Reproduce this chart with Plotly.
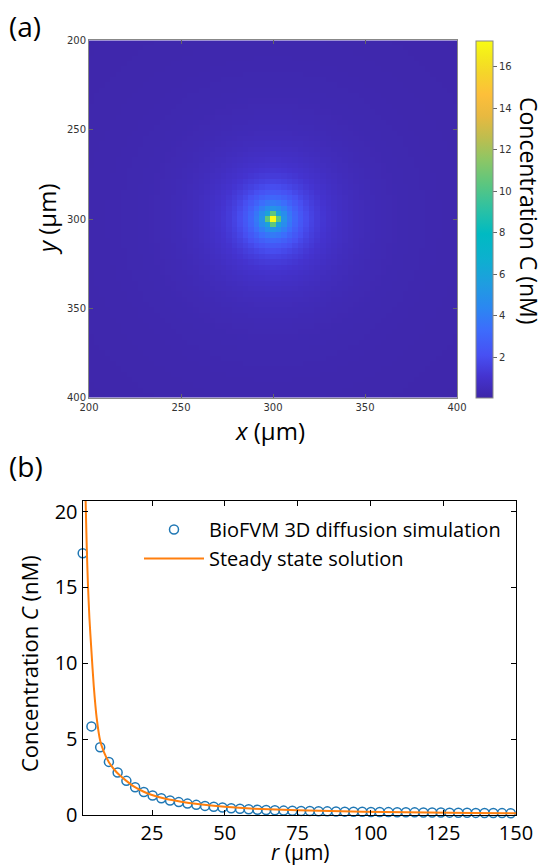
import numpy as np
import plotly.graph_objects as go

# ---------------- data ----------------
# BioFVM simulation radial profile (panel b markers)
r_sim = [1.2, 4.2, 7.2, 10.2, 13.2, 16.2, 19.2, 22.2, 25.2, 28.2,
         31.2, 34.2, 37.2, 40.2, 43.2, 46.2, 49.2, 52.2, 55.2, 58.2,
         61.2, 64.2, 67.2, 70.2, 73.2, 76.2, 79.2, 82.2, 85.2, 88.2,
         91.2, 94.2, 97.2, 100.2, 103.2, 106.2, 109.2, 112.2, 115.2, 118.2,
         121.2, 124.2, 127.2, 130.2, 133.2, 136.2, 139.2, 142.2, 145.2, 148.2]
c_sim = [17.26, 5.84, 4.47, 3.50, 2.80, 2.25, 1.83, 1.52, 1.28, 1.10,
         0.96, 0.85, 0.75, 0.67, 0.60, 0.54, 0.49, 0.45, 0.41, 0.38,
         0.35, 0.33, 0.31, 0.29, 0.28, 0.27, 0.26, 0.25, 0.24, 0.23,
         0.22, 0.215, 0.21, 0.20, 0.195, 0.19, 0.185, 0.18, 0.175, 0.17,
         0.165, 0.16, 0.155, 0.15, 0.145, 0.14, 0.135, 0.13, 0.125, 0.12]

# Steady state solution (panel b line)
r_ss = [1.8, 2.2, 2.6, 3.0, 3.5, 4.2, 5.0, 6.0, 7.2, 8.5, 10.2, 12.0, 14.0,
        16.2, 19.0, 22.0, 25.0, 30.0, 35.0, 40.0, 50.0, 60.0, 75.0, 90.0,
        105.0, 120.0, 135.0, 150.0]
c_ss = [25.0, 20.8, 17.6, 15.2, 13.0, 10.8, 8.5, 6.4, 4.9, 4.15, 3.48, 3.0, 2.6,
        2.25, 1.85, 1.55, 1.32, 1.05, 0.88, 0.74, 0.55, 0.42, 0.31, 0.24,
        0.19, 0.16, 0.14, 0.12]

# Panel a: voxel grid (3 um voxels) and source position
voxel_x = np.arange(201, 400, 3)
voxel_y = np.arange(201, 400, 3)
source_xy = (300, 300)

cbar_ticks = [2, 4, 6, 8, 10, 12, 14, 16]
xa_ticks = [200, 250, 300, 350, 400]
xb_ticks = [25, 50, 75, 100, 125, 150]
yb_ticks = [0, 5, 10, 15, 20]

# concentration field built from the simulated radial profile
XX, YY = np.meshgrid(voxel_x, voxel_y)
dist = np.sqrt((XX - source_xy[0]) ** 2 + (YY - source_xy[1]) ** 2)
field = np.interp(dist, r_sim, c_sim)

parula = [
    [0.00, "#3e26a8"], [0.06, "#4433cf"], [0.12, "#4750f3"], [0.19, "#3d6cfc"],
    [0.25, "#2c86f2"], [0.32, "#1f9de0"], [0.39, "#0db0cf"], [0.46, "#00bac2"],
    [0.53, "#2dc1a3"], [0.60, "#5cc67f"], [0.67, "#8fc664"], [0.73, "#bfbd4e"],
    [0.79, "#e8b940"], [0.85, "#fdbf3a"], [0.91, "#f5d52a"], [0.96, "#f4ea1c"],
    [1.00, "#f9fb14"]]

W, H = 544, 867
def px(x):
    return x / W
def py(y):
    return 1 - y / H

fig = go.Figure()

fig.add_trace(go.Heatmap(
    x=voxel_x, y=voxel_y, z=field, colorscale=parula, zmin=0.05, zmax=17.26,
    xaxis="x", yaxis="y", zsmooth=False,
    colorbar=dict(
        x=px(476), xanchor="left", y=py(397.6), yanchor="bottom",
        len=(397.6 - 40.4) / H, lenmode="fraction", thickness=17, thicknessmode="pixels",
        xpad=0, ypad=0, outlinewidth=1, outlinecolor="#888",
        tickvals=cbar_ticks, ticks="outside", ticklen=4, tickcolor="#666",
        tickfont=dict(family="DejaVu Sans", size=10, color="#333"),
    ),
    hoverinfo="skip", showlegend=False,
))

fig.add_trace(go.Scatter(
    x=r_sim, y=c_sim, mode="markers", name="BioFVM 3D diffusion simulation",
    marker=dict(symbol="circle-open", size=9, color="#1f77b4", line=dict(width=1.5, color="#1f77b4")),
    xaxis="x2", yaxis="y2", cliponaxis=False,
))
fig.add_trace(go.Scatter(
    x=r_ss, y=c_ss, mode="lines", name="Steady state solution",
    line=dict(color="#ff7f0e", width=2, shape="spline", smoothing=0.6),
    xaxis="x2", yaxis="y2",
))

axis_a = dict(showline=True, linecolor="#888", linewidth=1, mirror="ticks", ticks="inside",
              ticklen=4, tickcolor="#666", showgrid=False, zeroline=False, automargin=False,
              tickfont=dict(family="DejaVu Sans", size=10, color="#333"))
axis_b = dict(showline=True, linecolor="black", linewidth=1.3, mirror="ticks", ticks="inside",
              ticklen=5, tickcolor="black", showgrid=False, zeroline=False, automargin=False,
              tickfont=dict(family="Open Sans", size=20, color="black"))

title_font = dict(family="Open Sans", size=24, color="black")
btitle_font = dict(family="Open Sans", size=22, color="black")

fig.update_layout(
    width=W, height=H, margin=dict(l=0, r=0, t=0, b=0, autoexpand=False),
    paper_bgcolor="white", plot_bgcolor="white",
    xaxis=dict(domain=[px(89), px(457)], range=[200, 400], tickvals=xa_ticks, anchor="y",
               **axis_a),
    yaxis=dict(domain=[py(397.6), py(40.4)], range=[400, 200], tickvals=xa_ticks, anchor="x",
               **axis_a),
    xaxis2=dict(domain=[px(82.7), px(516)], range=[1.2, 150], tickvals=xb_ticks, anchor="y2",
                **axis_b),
    yaxis2=dict(domain=[py(815), py(501)], range=[0, 20.7], tickvals=yb_ticks, anchor="x2",
                **axis_b),
    legend=dict(x=px(139), y=py(510), xanchor="left", yanchor="top",
                bgcolor="rgba(0,0,0,0)", itemwidth=60,
                font=dict(family="Open Sans", size=20, color="black")),
    annotations=[
        dict(text="(a)", x=px(7), y=py(5), xref="paper", yref="paper", xanchor="left",
             yanchor="top", showarrow=False, font=dict(family="Open Sans", size=28, color="black")),
        dict(text="(b)", x=px(7), y=py(445), xref="paper", yref="paper", xanchor="left",
             yanchor="top", showarrow=False, font=dict(family="Open Sans", size=28, color="black")),
        dict(text="<i>x</i> (µm)", x=px(270), y=py(431), xref="paper", yref="paper",
             xanchor="center", yanchor="middle", showarrow=False, font=title_font),
        dict(text="<i>y</i> (µm)", x=px(46), y=py(219), xref="paper", yref="paper",
             xanchor="center", yanchor="middle", showarrow=False, textangle=-90, font=title_font),
        dict(text="Concentration C (nM)", x=px(529), y=py(211), xref="paper", yref="paper",
             xanchor="center", yanchor="middle", showarrow=False, textangle=90,
             font=dict(family="Open Sans", size=23, color="black")),
        dict(text="<i>r</i> (µm)", x=px(300), y=py(867), xref="paper", yref="paper",
             xanchor="center", yanchor="bottom", showarrow=False, borderpad=0,
             font=dict(family="Open Sans", size=21, color="black")),
        dict(text="Concentration <i>C</i> (nM)", x=px(29), y=py(664), xref="paper", yref="paper",
             xanchor="center", yanchor="middle", showarrow=False, textangle=-90,
             font=btitle_font),
    ],
)

fig.write_html("out.html")
